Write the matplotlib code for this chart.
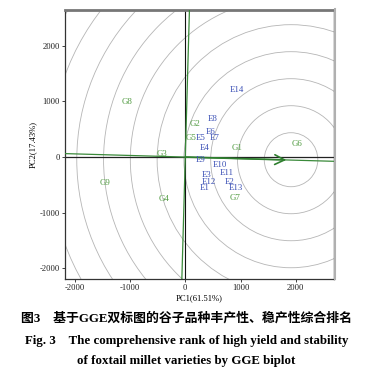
import matplotlib
matplotlib.use("Agg")
import matplotlib.pyplot as plt
import numpy as np
from matplotlib.patches import Circle

plt.rcParams['axes.unicode_minus'] = False

# Genotype labels (green) and environment labels (blue): PC1, PC2 scores
genotypes = ["G1", "G2", "G3", "G4", "G5", "G6", "G7", "G8", "G9"]
g_pc1 = [937, 180, -428, -386, 97, 2018, 906, -1060, -1455]
g_pc2 = [156, 587, 48, -760, 341, 228, -730, 982, -461]

environments = ["E1", "E2", "E3", "E4", "E5", "E6", "E7", "E8", "E9", "E10",
                "E11", "E12", "E13", "E14"]
e_pc1 = [344, 810, 380, 351, 272, 466, 538, 490, 284, 629, 755, 429, 913, 937]
e_pc2 = [-557, -449, -318, 156, 341, 443, 347, 688, -54, -138, -293, -449, -551, 1197]

# ideal point (centre of concentric circles) and average-environment arrow
ideal_pc1, ideal_pc2 = 1915, -48
circle_step = 485
aec_arrow = (1830, -52)

x_label = "PC1(61.51%)"
y_label = "PC2(17.43%)"
ticks = [-2000, -1000, 0, 1000, 2000]

fig = plt.figure(figsize=(3.73, 3.72), dpi=100)
ax = fig.add_axes([0.174, 0.25, 0.721, 0.723])
xlim = (-2180, 2690)
ylim = (-2190, 2640)
ax.set_xlim(*xlim)
ax.set_ylim(*ylim)

# concentric circles
for k in range(1, 12):
    ax.add_patch(Circle((ideal_pc1, ideal_pc2), k * circle_step, fill=False,
                        ec="#b5b5b5", lw=0.6, zorder=1))

# axes lines
ax.axhline(0, color="#222222", lw=0.9, zorder=2)
ax.axvline(0, color="#111111", lw=0.8, zorder=2)

# AEC abscissa line and its perpendicular
slope = aec_arrow[1] / aec_arrow[0]
xs = np.array(xlim)
ax.plot(xs, slope * xs, color="#3a8a3a", lw=0.9, zorder=3)
ys = np.array(ylim)
ax.plot(-slope * ys, ys, color="#3a8a3a", lw=0.9, zorder=3)
ax.annotate("", xy=aec_arrow, xytext=(0, 0),
            arrowprops=dict(arrowstyle="->,head_length=0.7,head_width=0.35",
                            color="#2f7f2f", lw=1.2, mutation_scale=10,
                            shrinkA=0, shrinkB=0), zorder=4)

font = dict(family="Liberation Serif", fontsize=6.4)
for name, x, y in zip(genotypes, g_pc1, g_pc2):
    ax.text(x, y, name, color="#4f9a3f", ha="center", va="center", zorder=5, **font)
for name, x, y in zip(environments, e_pc1, e_pc2):
    ax.text(x, y, name, color="#3a4fb5", ha="center", va="center", zorder=5, **font)

tfont = dict(family="Liberation Serif", fontsize=6.2)
ax.set_xticks(ticks)
ax.set_yticks(ticks)
ax.set_xticklabels([str(t) for t in ticks], **tfont)
ax.set_yticklabels([str(t) for t in ticks], **tfont)
ax.tick_params(direction="out", length=2, width=0.6, pad=1.5, colors="#222222")
ax.set_xlabel(x_label, labelpad=2, **tfont)
ax.set_ylabel(y_label, labelpad=2, **tfont)

for side in ["left", "bottom"]:
    ax.spines[side].set_color("#333333")
    ax.spines[side].set_linewidth(0.9)
ax.spines["top"].set_color("#777777")
ax.spines["top"].set_linewidth(2.0)
ax.spines["right"].set_color("#444444")
ax.spines["right"].set_linewidth(1.0)
# light shadow beside right frame
fig.add_artist(plt.Line2D([0.8985, 0.8985], [0.25, 0.975], color="#b0b0b0", lw=1.5,
                          transform=fig.transFigure))

cap_font = ["Liberation Serif", "Noto Sans CJK SC"]
fig.text(0.5, 0.145, "图3　基于GGE双标图的谷子品种丰产性、稳产性综合排名",
         ha="center", va="center", fontsize=9.3, fontweight="bold", family=cap_font)
fig.text(0.5, 0.082, "Fig. 3　The comprehensive rank of high yield and stability",
         ha="center", va="center", fontsize=9.3, fontweight="bold", family=cap_font)
fig.text(0.5, 0.030, "of foxtail millet varieties by GGE biplot",
         ha="center", va="center", fontsize=9.3, fontweight="bold", family="Liberation Serif")

fig.savefig("out.png", dpi=100)
